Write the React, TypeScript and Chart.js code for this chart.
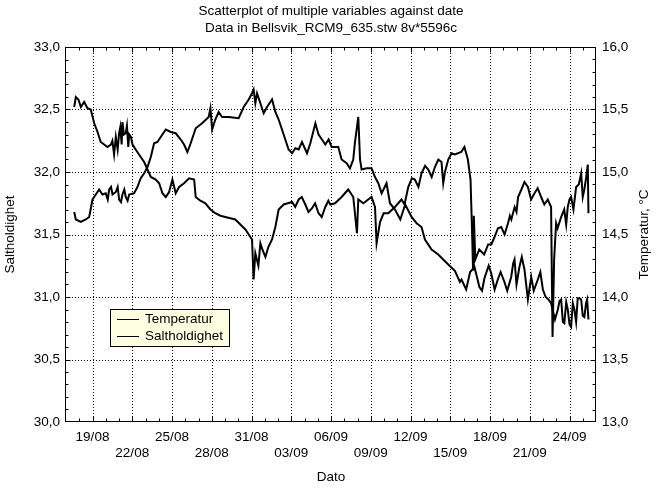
import React, { useEffect, useRef } from 'react';
import { Chart, registerables } from 'chart.js';

Chart.register(...registerables);

// x = days since 17/08 00:00
const titleLines = ['Scatterplot of multiple variables against date', 'Data in Bellsvik_RCM9_635.stw 8v*5596c'];
const xAxisTitle = 'Dato';
const leftAxisTitle = 'Saltholdighet';
const rightAxisTitle = 'Temperatur, °C';

const xTickDays = [2, 5, 8, 11, 14, 17, 20, 23, 26, 29, 32, 35, 38];
const xTickLabels = ['19/08', '22/08', '25/08', '28/08', '31/08', '03/09', '06/09', '09/09', '12/09', '15/09', '18/09', '21/09', '24/09'];
const xMin = 0;
const xMax = 40;
const leftMin = 30;
const leftMax = 33;
const rightMin = 13;
const rightMax = 16;
const yStep = 0.5;

const temperaturPoints: [number, number][] = [
  [0.62, 15.52], [0.74, 15.6], [0.94, 15.58], [1.12, 15.52], [1.37, 15.56], [1.62, 15.51], [1.87, 15.5],
  [2.13, 15.39], [2.38, 15.32], [2.62, 15.24], [2.88, 15.22], [3.13, 15.2], [3.39, 15.22], [3.5, 15.25], [3.63, 15.14],
  [3.76, 15.28], [3.9, 15.18], [4.01, 15.31], [4.1, 15.36], [4.2, 15.22], [4.26, 15.4], [4.37, 15.3], [4.51, 15.31],
  [4.6, 15.37], [4.7, 15.2], [4.77, 15.3], [4.9, 15.28], [5.02, 15.22],
  [5.26, 15.18], [5.64, 15.12], [5.9, 15.08], [6.15, 15.02], [6.4, 14.96], [6.77, 14.94], [7.03, 14.91],
  [7.28, 14.83], [7.53, 14.8], [7.78, 14.84], [8.03, 14.94], [8.28, 14.83], [8.54, 14.88], [8.91, 14.91],
  [9.29, 14.95], [9.67, 14.94], [9.79, 14.8], [10.14, 14.77], [10.52, 14.75], [10.9, 14.7], [11.27, 14.67],
  [11.65, 14.65], [12.02, 14.64], [12.41, 14.63], [12.78, 14.62], [13.16, 14.58], [13.54, 14.54],
  [13.79, 14.5], [14.04, 14.46], [14.16, 14.14], [14.29, 14.35], [14.52, 14.25], [14.67, 14.43],
  [14.82, 14.38], [15.05, 14.32], [15.27, 14.4], [15.55, 14.46], [15.8, 14.56], [16.05, 14.7],
  [16.43, 14.74], [17.06, 14.76], [17.3, 14.72], [17.56, 14.78], [17.8, 14.8], [18.06, 14.74], [18.3, 14.68],
  [18.57, 14.71], [18.8, 14.75], [19.06, 14.67], [19.3, 14.64],
  [19.57, 14.72], [19.8, 14.77], [19.95, 14.74], [20.3, 14.75], [20.8, 14.8], [21.3, 14.86], [21.68, 14.8],
  [21.96, 14.51], [22.06, 14.78], [22.44, 14.75], [22.81, 14.78], [23.06, 14.8], [23.32, 14.72],
  [23.44, 14.43], [23.7, 14.6], [23.97, 14.67], [24.32, 14.67], [24.83, 14.72], [25.32, 14.78], [25.55, 14.74],
  [25.83, 14.88], [26.1, 14.95], [26.33, 14.94], [26.6, 14.88], [26.83, 14.99], [27.1, 15.05], [27.34, 15.02],
  [27.6, 14.96], [27.84, 15.04], [28.1, 15.1], [28.34, 15.08],
  [28.47, 14.91], [28.6, 15.0], [28.85, 15.1], [29.1, 15.15], [29.35, 15.14], [29.83, 15.16], [30.07, 15.2], [30.33, 15.1],
  [30.53, 14.94], [30.64, 14.55], [30.72, 14.22], [30.78, 14.65], [30.89, 14.3], [31.19, 14.38],
  [31.56, 14.34], [31.86, 14.42], [32.1, 14.42], [32.34, 14.48], [32.6, 14.55], [32.85, 14.56], [33.1, 14.5],
  [33.36, 14.59], [33.5, 14.65], [33.61, 14.62],
  [33.86, 14.72], [34.0, 14.68], [34.12, 14.8], [34.37, 14.86], [34.6, 14.92], [34.86, 14.88], [35.1, 14.78],
  [35.36, 14.83], [35.6, 14.87], [35.86, 14.8], [36.1, 14.74],
  [36.36, 14.78], [36.61, 14.72], [36.72, 13.68], [36.84, 14.3], [36.99, 14.59], [37.1, 14.55], [37.37, 14.64],
  [37.6, 14.7], [37.75, 14.58],
  [37.87, 14.72], [38.0, 14.78], [38.12, 14.8], [38.3, 14.7], [38.5, 14.88], [38.7, 14.9], [38.88, 14.99],
  [39.0, 14.8], [39.12, 14.86], [39.25, 14.95], [39.38, 15.06], [39.43, 14.67],
];

const saltholdighetPoints: [number, number][] = [
  [0.62, 31.68], [0.74, 31.62], [1.12, 31.6], [1.49, 31.62], [1.75, 31.64], [2.0, 31.78], [2.25, 31.82], [2.5, 31.86],
  [2.75, 31.82], [3.0, 31.83], [3.15, 31.78], [3.26, 31.86], [3.4, 31.88], [3.51, 31.82], [3.76, 31.84], [3.9, 31.88],
  [4.01, 31.78], [4.15, 31.76], [4.26, 31.82], [4.4, 31.86],
  [4.51, 31.8], [4.65, 31.77], [4.77, 31.82], [5.14, 31.83], [5.39, 31.88], [5.64, 31.95], [5.9, 31.99], [6.15, 32.04],
  [6.4, 32.12], [6.65, 32.23], [6.9, 32.24], [7.15, 32.28], [7.53, 32.34], [7.9, 32.32], [8.28, 32.31],
  [8.66, 32.26], [8.91, 32.22], [9.16, 32.16], [9.41, 32.23], [9.79, 32.35], [10.27, 32.39], [10.77, 32.44],
  [10.9, 32.51], [11.03, 32.34], [11.27, 32.42], [11.52, 32.48], [11.78, 32.44], [12.28, 32.44],
  [13.03, 32.43], [13.41, 32.52], [13.79, 32.58], [14.04, 32.63], [14.16, 32.66], [14.29, 32.55],
  [14.42, 32.63], [14.67, 32.55], [14.92, 32.47], [15.17, 32.52], [15.55, 32.58], [15.8, 32.48],
  [16.05, 32.42], [16.3, 32.34], [16.55, 32.26], [16.8, 32.18], [17.06, 32.15], [17.31, 32.19],
  [17.56, 32.18], [17.81, 32.24], [18.19, 32.15], [18.44, 32.23], [18.82, 32.39], [19.06, 32.3],
  [19.32, 32.26], [19.57, 32.22], [19.82, 32.26], [20.05, 32.2], [20.55, 32.2], [20.8, 32.1],
  [21.18, 32.07], [21.43, 32.03], [21.68, 32.1], [21.81, 32.24], [22.06, 32.44], [22.19, 32.1],
  [22.31, 32.02], [22.69, 32.03], [23.06, 32.03], [23.32, 31.96], [23.57, 31.91], [23.82, 31.83],
  [24.19, 31.91], [24.45, 31.75], [24.83, 31.7], [25.23, 31.62], [25.6, 31.74], [26.08, 31.64],
  [26.46, 31.59], [26.83, 31.56], [27.09, 31.46], [27.59, 31.38], [28.09, 31.34], [28.47, 31.3],
  [28.85, 31.26], [29.35, 31.21], [29.73, 31.12], [29.85, 31.14], [30.2, 31.06], [30.5, 31.2],
  [30.83, 31.24], [31.2, 31.08], [31.4, 31.05], [31.58, 31.15], [31.9, 31.25], [32.09, 31.19], [32.35, 31.06],
  [32.59, 31.14], [32.8, 31.2], [33.09, 31.12], [33.3, 31.05],
  [33.6, 31.16], [33.75, 31.27], [33.85, 31.3], [34.0, 31.1], [34.22, 31.24], [34.4, 31.32], [34.6, 31.22],
  [34.86, 30.98], [35.11, 31.16], [35.3, 31.05],
  [35.61, 31.14], [35.8, 31.2], [35.99, 31.06], [36.2, 31.0], [36.41, 30.98], [36.61, 30.95], [36.9, 30.82],
  [37.12, 30.9], [37.25, 30.97], [37.37, 30.98], [37.5, 30.8],
  [37.61, 30.79], [37.75, 30.96], [37.87, 30.9], [38.0, 30.78], [38.12, 30.76], [38.25, 30.95], [38.37, 30.9],
  [38.5, 30.8], [38.62, 30.99], [38.75, 30.99], [38.88, 30.98], [39.0, 30.85],
  [39.12, 30.84], [39.25, 30.95], [39.33, 30.98], [39.43, 30.82],
];

const seriesNames = ['Temperatur', 'Saltholdighet'];

const FONT = '"Liberation Sans", Arial, sans-serif';
const FS = 13.5;

const fmt = (v: number) => v.toFixed(1).replace('.', ',');

const decor = {
  id: 'decor',
  beforeDatasetsDraw(chart: any) {
    const { ctx, chartArea: a, scales } = chart;
    ctx.save();
    ctx.strokeStyle = '#000';
    ctx.lineWidth = 1;
    ctx.setLineDash([1, 2]);
    ctx.beginPath();
    for (const d of xTickDays) {
      const px = Math.round(scales.x.getPixelForValue(d)) + 0.5;
      ctx.moveTo(px, a.top);
      ctx.lineTo(px, a.bottom);
    }
    for (let v = leftMin + yStep; v < leftMax - 1e-6; v += yStep) {
      const py = Math.round(scales.y.getPixelForValue(v)) + 0.5;
      ctx.moveTo(a.left, py);
      ctx.lineTo(a.right, py);
    }
    ctx.stroke();
    ctx.restore();
  },
  afterDatasetsDraw(chart: any) {
    const { ctx, chartArea: a, scales } = chart;
    const L = Math.round(a.left) - 0.5;
    const R = Math.round(a.right) - 0.5;
    const T = Math.round(a.top) + 0.5;
    const B = Math.round(a.bottom) - 0.5;
    ctx.save();
    ctx.strokeStyle = '#000';
    ctx.lineWidth = 1;
    ctx.setLineDash([]);
    ctx.strokeRect(L, T, R - L, B - T);
    ctx.beginPath();
    for (let d = xMin + 1; d < xMax; d++) {
      const major = xTickDays.includes(d);
      const len = major ? 5 : 3;
      const px = Math.round(scales.x.getPixelForValue(d)) + 0.5;
      ctx.moveTo(px, B);
      ctx.lineTo(px, B - len);
      ctx.moveTo(px, T);
      ctx.lineTo(px, T + len);
    }
    for (let i = 1; i < 30; i++) {
      const v = leftMin + i * 0.1;
      const major = i % 5 === 0;
      const len = major ? 5 : 3;
      const py = Math.round(scales.y.getPixelForValue(v)) + 0.5;
      ctx.moveTo(L, py);
      ctx.lineTo(L + len, py);
      const v2 = rightMin + i * 0.1;
      const py2 = Math.round(scales.y1.getPixelForValue(v2)) + 0.5;
      ctx.moveTo(R, py2);
      ctx.lineTo(R - len, py2);
    }
    ctx.stroke();

    const bx = 110.5, by = 309.5, bw = 119, bh = 37;
    ctx.fillStyle = '#ffffe1';
    ctx.fillRect(bx, by, bw, bh);
    ctx.strokeStyle = '#000';
    ctx.strokeRect(bx, by, bw, bh);
    ctx.font = `${FS}px ${FONT}`;
    ctx.fillStyle = '#000';
    ctx.textAlign = 'left';
    ctx.textBaseline = 'middle';
    seriesNames.forEach((name, i) => {
      const y = 319.5 + i * 17;
      ctx.beginPath();
      ctx.moveTo(117, y);
      ctx.lineTo(139, y);
      ctx.stroke();
      ctx.fillText(name, 145, y);
    });
    ctx.restore();
  },
  afterDraw(chart: any) {
    const { ctx, chartArea: a } = chart;
    const cx = (a.left + a.right) / 2;
    const cy = (a.top + a.bottom) / 2;
    ctx.save();
    ctx.fillStyle = '#000';
    ctx.font = `${FS}px ${FONT}`;
    ctx.textAlign = 'center';
    ctx.textBaseline = 'alphabetic';
    ctx.fillText(titleLines[0], cx, 15);
    ctx.fillText(titleLines[1], cx, 32);
    ctx.fillText(xAxisTitle, cx, 481);
    ctx.save();
    ctx.translate(15, cy);
    ctx.rotate(-Math.PI / 2);
    ctx.textBaseline = 'middle';
    ctx.fillText(leftAxisTitle, 0, -5);
    ctx.restore();
    ctx.save();
    ctx.translate(644, cy);
    ctx.rotate(-Math.PI / 2);
    ctx.textBaseline = 'middle';
    ctx.fillText(rightAxisTitle, 0, 0);
    ctx.restore();
    ctx.restore();
  },
};

export default function App() {
  const ref = useRef<HTMLCanvasElement | null>(null);
  useEffect(() => {
    if (!ref.current) return;
    const chart = new Chart(ref.current, {
      type: 'line',
      data: {
        datasets: [
          {
            label: seriesNames[0],
            data: temperaturPoints.map(([x, y]) => ({ x, y })),
            yAxisID: 'y1',
            borderColor: '#000',
            borderWidth: 2,
            pointRadius: 0,
            tension: 0,
          },
          {
            label: seriesNames[1],
            data: saltholdighetPoints.map(([x, y]) => ({ x, y })),
            yAxisID: 'y',
            borderColor: '#000',
            borderWidth: 2,
            pointRadius: 0,
            tension: 0,
          },
        ],
      },
      options: {
        animation: false,
        responsive: false,
        devicePixelRatio: 1,
        layout: { padding: { top: 47, left: 0, right: 0, bottom: 0 } },
        plugins: { legend: { display: false }, title: { display: false }, tooltip: { enabled: false } },
        scales: {
          x: {
            type: 'linear',
            min: xMin,
            max: xMax,
            afterBuildTicks: (s: any) => {
              s.ticks = xTickDays.map((v) => ({ value: v }));
            },
            afterFit: (s: any) => {
              s.height = 66;
            },
            grid: { display: false, drawTicks: false },
            border: { display: false },
            ticks: {
              autoSkip: false,
              maxRotation: 0,
              minRotation: 0,
              padding: 7,
              color: '#000',
              font: { family: FONT, size: FS, lineHeight: 1.2 },
              callback: (value: any) => {
                const i = xTickDays.indexOf(Number(value));
                if (i < 0) return '';
                return i % 2 === 0 ? xTickLabels[i] : ['', xTickLabels[i]];
              },
            },
          },
          y: {
            type: 'linear',
            position: 'left',
            min: leftMin,
            max: leftMax,
            afterFit: (s: any) => {
              s.width = 66;
            },
            grid: { display: false, drawTicks: false },
            border: { display: false },
            ticks: {
              stepSize: yStep,
              padding: 6,
              color: '#000',
              font: { family: FONT, size: FS },
              callback: (v: any) => fmt(Number(v)),
            },
          },
          y1: {
            type: 'linear',
            position: 'right',
            min: rightMin,
            max: rightMax,
            afterFit: (s: any) => {
              s.width = 60;
            },
            grid: { display: false, drawTicks: false },
            border: { display: false },
            ticks: {
              stepSize: yStep,
              padding: 6,
              color: '#000',
              font: { family: FONT, size: FS },
              callback: (v: any) => fmt(Number(v)),
            },
          },
        },
      },
      plugins: [decor],
    });
    return () => chart.destroy();
  }, []);
  return (
    <div style={{ position: 'fixed', left: 0, top: 0, width: 656, height: 488, background: '#fff' }}>
      <canvas ref={ref} width={656} height={488} style={{ display: 'block' }} />
    </div>
  );
}
